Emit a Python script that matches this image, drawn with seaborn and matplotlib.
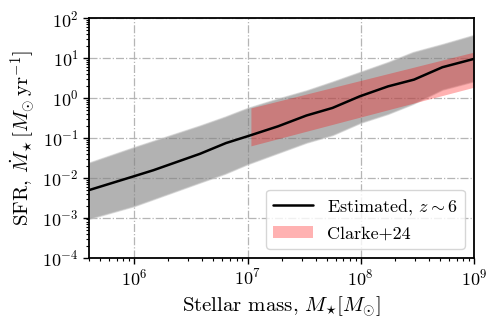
import numpy as np
import matplotlib
matplotlib.use("Agg")
import matplotlib.pyplot as plt
import seaborn as sns
from matplotlib.patches import Patch
from matplotlib.lines import Line2D

# ---- data (log10 values) ----
line_logm = [5.60, 6.00, 6.17, 6.58, 6.81, 7.00, 7.27, 7.52, 7.75, 7.99, 8.24, 8.47, 8.72, 9.00]
line_logsfr = [-2.31, -1.96, -1.81, -1.40, -1.13, -0.96, -0.71, -0.44, -0.25, 0.04, 0.29, 0.46, 0.77, 0.98]

band_logm = [5.60, 6.00, 6.58, 6.80, 7.00, 7.25, 7.52, 7.75, 8.00, 8.24, 8.46, 8.72, 9.00]
band_upper = [-1.62, -1.23, -0.69, -0.47, -0.25, -0.03, 0.19, 0.41, 0.66, 0.90, 1.15, 1.35, 1.58]
band_lower = [-3.03, -2.71, -2.12, -1.90, -1.66, -1.40, -1.12, -0.93, -0.62, -0.40, -0.15, 0.21, 0.42]

clarke_logm = [7.03, 9.00]
clarke_upper = [-0.25, 1.15]
clarke_lower = [-1.20, 0.27]

xlim = (4.0e5, 1.0e9)
ylim = (1e-4, 1e2)

sns.set_theme(style="ticks")
plt.rcParams.update({
    "font.family": "serif",
    "font.serif": ["cmr10", "DejaVu Serif"],
    "mathtext.fontset": "cm",
    "axes.formatter.use_mathtext": True,
    "axes.unicode_minus": False,
    "text.color": "black",
    "axes.labelcolor": "black",
    "xtick.color": "black",
    "ytick.color": "black",
})

fig = plt.figure(figsize=(4.98, 3.24), dpi=100)
ax = fig.add_axes([0.179, 0.205, 0.773, 0.739])

bx = np.power(10.0, band_logm)
ax.fill_between(bx, np.power(10.0, band_lower), np.power(10.0, band_upper),
                color="gray", alpha=0.6, edgecolor="#c8c8c8", linewidth=1.0, zorder=1)

cx = np.power(10.0, clarke_logm)
ax.fill_between(cx, np.power(10.0, clarke_lower), np.power(10.0, clarke_upper),
                color="red", alpha=0.3, linewidth=0, zorder=2)

sns.lineplot(x=np.power(10.0, line_logm), y=np.power(10.0, line_logsfr), ax=ax,
             color="black", linewidth=1.8, zorder=3)

ax.set_xscale("log")
ax.set_yscale("log")
ax.set_xlim(*xlim)
ax.set_ylim(*ylim)

ax.grid(True, which="major", linestyle="-.", color="#b5b5b5", linewidth=0.9)
ax.set_axisbelow(True)

for s in ax.spines.values():
    s.set_linewidth(1.3)
    s.set_color("black")
ax.tick_params(which="major", length=4, width=1.0, labelsize=13, direction="out",
               color="black", labelcolor="black")
ax.tick_params(which="minor", length=2.5, width=0.8, direction="out", color="black")
ax.yaxis.set_minor_locator(matplotlib.ticker.LogLocator(base=10, subs=np.arange(2, 10), numticks=50))
ax.xaxis.set_minor_locator(matplotlib.ticker.LogLocator(base=10, subs=np.arange(2, 10), numticks=50))

ax.set_xlabel(r"Stellar mass, $M_{\star}[M_{\odot}]$", fontsize=15, color="black")
ax.set_ylabel(r"SFR, $\dot{M}_{\star}\,[M_{\odot}\,\mathrm{yr}^{-1}]$", fontsize=15, color="black")

handles = [Line2D([0], [0], color="black", linewidth=1.8),
           Patch(facecolor="red", alpha=0.3, edgecolor="none")]
labels = [r"Estimated, $z\sim6$", "Clarke+24"]
leg = ax.legend(handles, labels, loc="lower right", fontsize=13, frameon=True,
                framealpha=0.8, edgecolor="#cccccc", fancybox=True, handlelength=2.2)
for t in leg.get_texts():
    t.set_color("black")

fig.savefig("out.png", dpi=100)
